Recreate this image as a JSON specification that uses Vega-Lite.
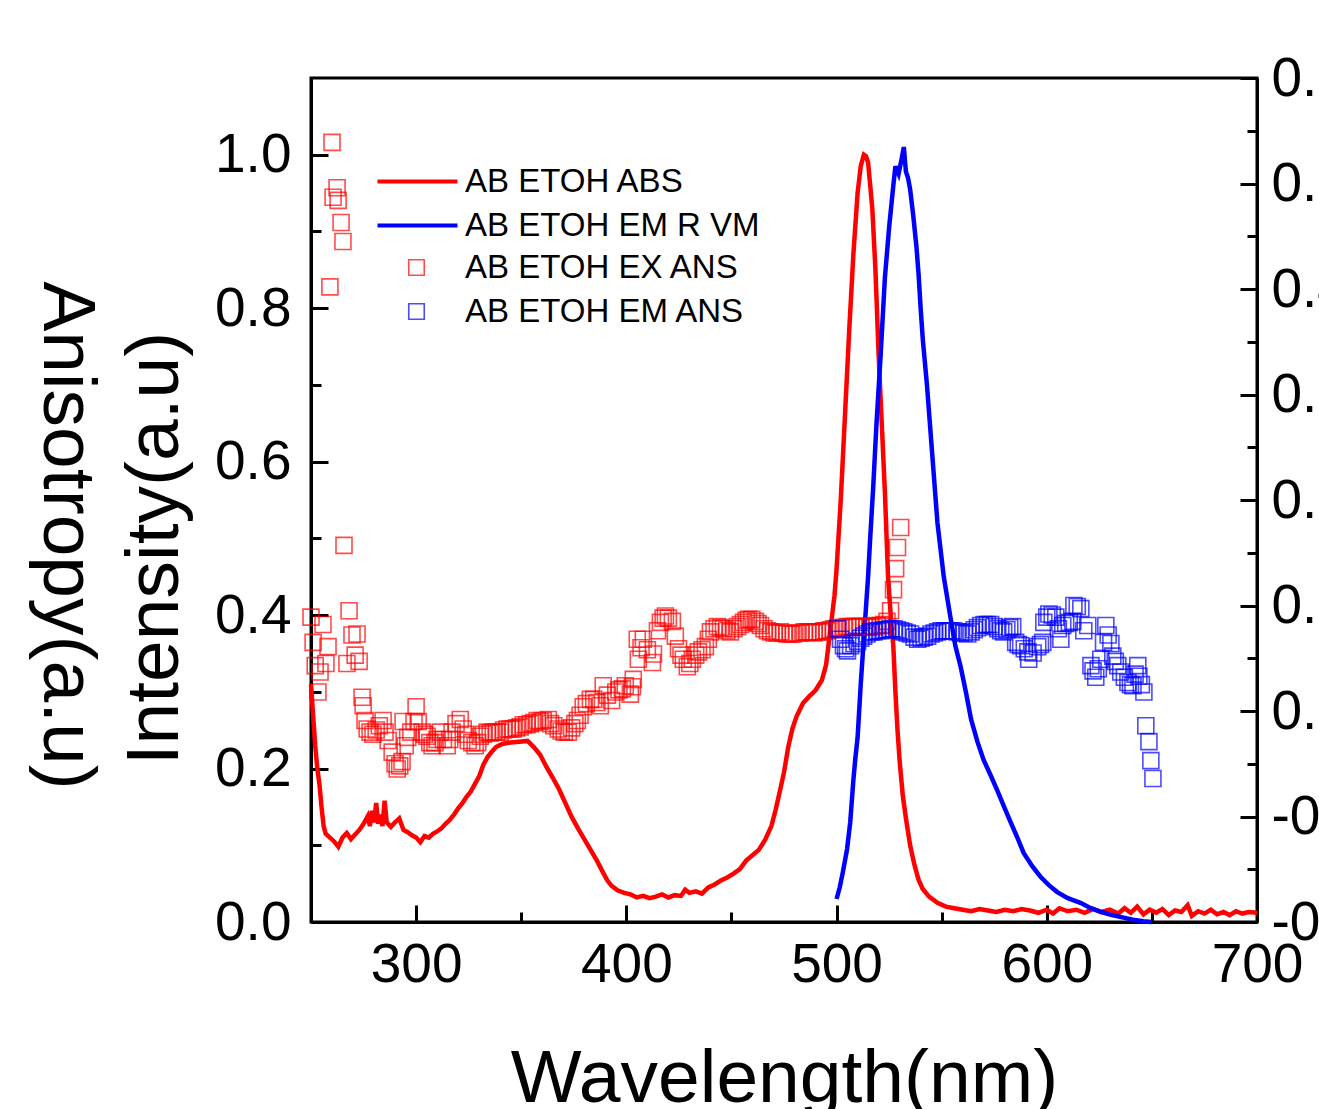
{
  "$schema": "https://vega.github.io/schema/vega-lite/v6.json",
  "width": 946,
  "height": 844,
  "autosize": {"type": "none"},
  "padding": {"left": 311, "top": 78, "right": 62, "bottom": 187},
  "background": "white",
  "config": {
    "view": {"stroke": "black", "strokeWidth": 3},
    "font": "Liberation Sans",
    "axis": {
      "labelFont": "Liberation Sans",
      "titleFont": "Liberation Sans",
      "labelColor": "black",
      "titleColor": "black",
      "domainColor": "black",
      "domainWidth": 3,
      "tickColor": "black",
      "tickWidth": 3,
      "grid": false,
      "labelFontSize": 55,
      "titleFontSize": 75,
      "titleFontWeight": "normal",
      "labelFlush": false,
      "labelOverlap": false
    },
    "legend": {"labelFont": "Liberation Sans", "labelFontSize": 33, "labelColor": "black", "labelLimit": 0}
  },
  "datasets": {
    "lines": [
      {"nm": 250, "v": 0.31, "s": "AB ETOH ABS"},
      {"nm": 251, "v": 0.27, "s": "AB ETOH ABS"},
      {"nm": 252, "v": 0.23, "s": "AB ETOH ABS"},
      {"nm": 253, "v": 0.2, "s": "AB ETOH ABS"},
      {"nm": 254, "v": 0.18, "s": "AB ETOH ABS"},
      {"nm": 255, "v": 0.15, "s": "AB ETOH ABS"},
      {"nm": 256, "v": 0.125, "s": "AB ETOH ABS"},
      {"nm": 257, "v": 0.115, "s": "AB ETOH ABS"},
      {"nm": 259, "v": 0.11, "s": "AB ETOH ABS"},
      {"nm": 261, "v": 0.105, "s": "AB ETOH ABS"},
      {"nm": 263, "v": 0.098, "s": "AB ETOH ABS"},
      {"nm": 265, "v": 0.11, "s": "AB ETOH ABS"},
      {"nm": 267, "v": 0.116, "s": "AB ETOH ABS"},
      {"nm": 269, "v": 0.108, "s": "AB ETOH ABS"},
      {"nm": 271, "v": 0.114, "s": "AB ETOH ABS"},
      {"nm": 273, "v": 0.12, "s": "AB ETOH ABS"},
      {"nm": 275, "v": 0.128, "s": "AB ETOH ABS"},
      {"nm": 277, "v": 0.138, "s": "AB ETOH ABS"},
      {"nm": 278, "v": 0.125, "s": "AB ETOH ABS"},
      {"nm": 279, "v": 0.145, "s": "AB ETOH ABS"},
      {"nm": 280, "v": 0.13, "s": "AB ETOH ABS"},
      {"nm": 281, "v": 0.155, "s": "AB ETOH ABS"},
      {"nm": 282, "v": 0.128, "s": "AB ETOH ABS"},
      {"nm": 283, "v": 0.14, "s": "AB ETOH ABS"},
      {"nm": 284, "v": 0.125, "s": "AB ETOH ABS"},
      {"nm": 285, "v": 0.158, "s": "AB ETOH ABS"},
      {"nm": 286, "v": 0.13, "s": "AB ETOH ABS"},
      {"nm": 288, "v": 0.124, "s": "AB ETOH ABS"},
      {"nm": 290, "v": 0.13, "s": "AB ETOH ABS"},
      {"nm": 292, "v": 0.135, "s": "AB ETOH ABS"},
      {"nm": 294, "v": 0.12, "s": "AB ETOH ABS"},
      {"nm": 296, "v": 0.117, "s": "AB ETOH ABS"},
      {"nm": 298, "v": 0.113, "s": "AB ETOH ABS"},
      {"nm": 300, "v": 0.11, "s": "AB ETOH ABS"},
      {"nm": 302, "v": 0.104, "s": "AB ETOH ABS"},
      {"nm": 304, "v": 0.112, "s": "AB ETOH ABS"},
      {"nm": 306, "v": 0.11, "s": "AB ETOH ABS"},
      {"nm": 308, "v": 0.115, "s": "AB ETOH ABS"},
      {"nm": 310, "v": 0.118, "s": "AB ETOH ABS"},
      {"nm": 312, "v": 0.122, "s": "AB ETOH ABS"},
      {"nm": 314, "v": 0.128, "s": "AB ETOH ABS"},
      {"nm": 316, "v": 0.133, "s": "AB ETOH ABS"},
      {"nm": 318, "v": 0.14, "s": "AB ETOH ABS"},
      {"nm": 320, "v": 0.148, "s": "AB ETOH ABS"},
      {"nm": 322, "v": 0.155, "s": "AB ETOH ABS"},
      {"nm": 324, "v": 0.163, "s": "AB ETOH ABS"},
      {"nm": 326, "v": 0.17, "s": "AB ETOH ABS"},
      {"nm": 328, "v": 0.18, "s": "AB ETOH ABS"},
      {"nm": 330, "v": 0.19, "s": "AB ETOH ABS"},
      {"nm": 332, "v": 0.205, "s": "AB ETOH ABS"},
      {"nm": 334, "v": 0.215, "s": "AB ETOH ABS"},
      {"nm": 336, "v": 0.222, "s": "AB ETOH ABS"},
      {"nm": 338, "v": 0.228, "s": "AB ETOH ABS"},
      {"nm": 341, "v": 0.232, "s": "AB ETOH ABS"},
      {"nm": 345, "v": 0.234, "s": "AB ETOH ABS"},
      {"nm": 349, "v": 0.235, "s": "AB ETOH ABS"},
      {"nm": 353, "v": 0.236, "s": "AB ETOH ABS"},
      {"nm": 356, "v": 0.228, "s": "AB ETOH ABS"},
      {"nm": 359, "v": 0.218, "s": "AB ETOH ABS"},
      {"nm": 362, "v": 0.202, "s": "AB ETOH ABS"},
      {"nm": 365, "v": 0.188, "s": "AB ETOH ABS"},
      {"nm": 368, "v": 0.173, "s": "AB ETOH ABS"},
      {"nm": 371, "v": 0.155, "s": "AB ETOH ABS"},
      {"nm": 374, "v": 0.137, "s": "AB ETOH ABS"},
      {"nm": 377, "v": 0.122, "s": "AB ETOH ABS"},
      {"nm": 380, "v": 0.108, "s": "AB ETOH ABS"},
      {"nm": 383, "v": 0.094, "s": "AB ETOH ABS"},
      {"nm": 386, "v": 0.08, "s": "AB ETOH ABS"},
      {"nm": 389, "v": 0.064, "s": "AB ETOH ABS"},
      {"nm": 391, "v": 0.054, "s": "AB ETOH ABS"},
      {"nm": 393, "v": 0.047, "s": "AB ETOH ABS"},
      {"nm": 396, "v": 0.041, "s": "AB ETOH ABS"},
      {"nm": 399, "v": 0.038, "s": "AB ETOH ABS"},
      {"nm": 402, "v": 0.036, "s": "AB ETOH ABS"},
      {"nm": 405, "v": 0.032, "s": "AB ETOH ABS"},
      {"nm": 408, "v": 0.034, "s": "AB ETOH ABS"},
      {"nm": 411, "v": 0.031, "s": "AB ETOH ABS"},
      {"nm": 414, "v": 0.033, "s": "AB ETOH ABS"},
      {"nm": 417, "v": 0.036, "s": "AB ETOH ABS"},
      {"nm": 420, "v": 0.032, "s": "AB ETOH ABS"},
      {"nm": 423, "v": 0.035, "s": "AB ETOH ABS"},
      {"nm": 426, "v": 0.034, "s": "AB ETOH ABS"},
      {"nm": 428, "v": 0.042, "s": "AB ETOH ABS"},
      {"nm": 430, "v": 0.038, "s": "AB ETOH ABS"},
      {"nm": 433, "v": 0.04, "s": "AB ETOH ABS"},
      {"nm": 436, "v": 0.037, "s": "AB ETOH ABS"},
      {"nm": 439, "v": 0.045, "s": "AB ETOH ABS"},
      {"nm": 442, "v": 0.049, "s": "AB ETOH ABS"},
      {"nm": 445, "v": 0.054, "s": "AB ETOH ABS"},
      {"nm": 448, "v": 0.058, "s": "AB ETOH ABS"},
      {"nm": 451, "v": 0.063, "s": "AB ETOH ABS"},
      {"nm": 454, "v": 0.069, "s": "AB ETOH ABS"},
      {"nm": 457, "v": 0.08, "s": "AB ETOH ABS"},
      {"nm": 460, "v": 0.087, "s": "AB ETOH ABS"},
      {"nm": 463, "v": 0.094, "s": "AB ETOH ABS"},
      {"nm": 466, "v": 0.107, "s": "AB ETOH ABS"},
      {"nm": 469, "v": 0.125, "s": "AB ETOH ABS"},
      {"nm": 471, "v": 0.146, "s": "AB ETOH ABS"},
      {"nm": 473, "v": 0.17, "s": "AB ETOH ABS"},
      {"nm": 475, "v": 0.195, "s": "AB ETOH ABS"},
      {"nm": 477, "v": 0.228, "s": "AB ETOH ABS"},
      {"nm": 479, "v": 0.252, "s": "AB ETOH ABS"},
      {"nm": 481, "v": 0.268, "s": "AB ETOH ABS"},
      {"nm": 484, "v": 0.285, "s": "AB ETOH ABS"},
      {"nm": 487, "v": 0.294, "s": "AB ETOH ABS"},
      {"nm": 490, "v": 0.302, "s": "AB ETOH ABS"},
      {"nm": 493, "v": 0.315, "s": "AB ETOH ABS"},
      {"nm": 495, "v": 0.335, "s": "AB ETOH ABS"},
      {"nm": 497, "v": 0.38, "s": "AB ETOH ABS"},
      {"nm": 499, "v": 0.425, "s": "AB ETOH ABS"},
      {"nm": 500, "v": 0.46, "s": "AB ETOH ABS"},
      {"nm": 502, "v": 0.55, "s": "AB ETOH ABS"},
      {"nm": 504, "v": 0.66, "s": "AB ETOH ABS"},
      {"nm": 506, "v": 0.77, "s": "AB ETOH ABS"},
      {"nm": 508, "v": 0.87, "s": "AB ETOH ABS"},
      {"nm": 510, "v": 0.95, "s": "AB ETOH ABS"},
      {"nm": 511.5, "v": 0.985, "s": "AB ETOH ABS"},
      {"nm": 513, "v": 1.0, "s": "AB ETOH ABS"},
      {"nm": 514, "v": 0.998, "s": "AB ETOH ABS"},
      {"nm": 515, "v": 0.99, "s": "AB ETOH ABS"},
      {"nm": 516, "v": 0.96, "s": "AB ETOH ABS"},
      {"nm": 517, "v": 0.93, "s": "AB ETOH ABS"},
      {"nm": 518.5, "v": 0.85, "s": "AB ETOH ABS"},
      {"nm": 520, "v": 0.74, "s": "AB ETOH ABS"},
      {"nm": 521.5, "v": 0.65, "s": "AB ETOH ABS"},
      {"nm": 523, "v": 0.56, "s": "AB ETOH ABS"},
      {"nm": 524.5, "v": 0.45, "s": "AB ETOH ABS"},
      {"nm": 526, "v": 0.39, "s": "AB ETOH ABS"},
      {"nm": 527, "v": 0.36, "s": "AB ETOH ABS"},
      {"nm": 528, "v": 0.3, "s": "AB ETOH ABS"},
      {"nm": 529, "v": 0.25, "s": "AB ETOH ABS"},
      {"nm": 530, "v": 0.21, "s": "AB ETOH ABS"},
      {"nm": 531.5, "v": 0.165, "s": "AB ETOH ABS"},
      {"nm": 533, "v": 0.135, "s": "AB ETOH ABS"},
      {"nm": 535, "v": 0.1, "s": "AB ETOH ABS"},
      {"nm": 537, "v": 0.075, "s": "AB ETOH ABS"},
      {"nm": 539, "v": 0.055, "s": "AB ETOH ABS"},
      {"nm": 541, "v": 0.043, "s": "AB ETOH ABS"},
      {"nm": 544, "v": 0.033, "s": "AB ETOH ABS"},
      {"nm": 548, "v": 0.025, "s": "AB ETOH ABS"},
      {"nm": 552, "v": 0.02, "s": "AB ETOH ABS"},
      {"nm": 556, "v": 0.018, "s": "AB ETOH ABS"},
      {"nm": 560, "v": 0.016, "s": "AB ETOH ABS"},
      {"nm": 564, "v": 0.014, "s": "AB ETOH ABS"},
      {"nm": 568, "v": 0.017, "s": "AB ETOH ABS"},
      {"nm": 572, "v": 0.015, "s": "AB ETOH ABS"},
      {"nm": 576, "v": 0.013, "s": "AB ETOH ABS"},
      {"nm": 580, "v": 0.016, "s": "AB ETOH ABS"},
      {"nm": 584, "v": 0.014, "s": "AB ETOH ABS"},
      {"nm": 588, "v": 0.017, "s": "AB ETOH ABS"},
      {"nm": 592, "v": 0.015, "s": "AB ETOH ABS"},
      {"nm": 596, "v": 0.012, "s": "AB ETOH ABS"},
      {"nm": 600, "v": 0.016, "s": "AB ETOH ABS"},
      {"nm": 603, "v": 0.011, "s": "AB ETOH ABS"},
      {"nm": 606, "v": 0.018, "s": "AB ETOH ABS"},
      {"nm": 610, "v": 0.014, "s": "AB ETOH ABS"},
      {"nm": 614, "v": 0.016, "s": "AB ETOH ABS"},
      {"nm": 618, "v": 0.012, "s": "AB ETOH ABS"},
      {"nm": 622, "v": 0.017, "s": "AB ETOH ABS"},
      {"nm": 626, "v": 0.013, "s": "AB ETOH ABS"},
      {"nm": 630, "v": 0.016, "s": "AB ETOH ABS"},
      {"nm": 634, "v": 0.011, "s": "AB ETOH ABS"},
      {"nm": 637, "v": 0.018, "s": "AB ETOH ABS"},
      {"nm": 640, "v": 0.012, "s": "AB ETOH ABS"},
      {"nm": 643, "v": 0.02, "s": "AB ETOH ABS"},
      {"nm": 646, "v": 0.01, "s": "AB ETOH ABS"},
      {"nm": 649, "v": 0.016, "s": "AB ETOH ABS"},
      {"nm": 652, "v": 0.012, "s": "AB ETOH ABS"},
      {"nm": 655, "v": 0.017, "s": "AB ETOH ABS"},
      {"nm": 658, "v": 0.009, "s": "AB ETOH ABS"},
      {"nm": 661, "v": 0.015, "s": "AB ETOH ABS"},
      {"nm": 664, "v": 0.013, "s": "AB ETOH ABS"},
      {"nm": 667, "v": 0.022, "s": "AB ETOH ABS"},
      {"nm": 669, "v": 0.008, "s": "AB ETOH ABS"},
      {"nm": 672, "v": 0.014, "s": "AB ETOH ABS"},
      {"nm": 675, "v": 0.011, "s": "AB ETOH ABS"},
      {"nm": 678, "v": 0.016, "s": "AB ETOH ABS"},
      {"nm": 681, "v": 0.01, "s": "AB ETOH ABS"},
      {"nm": 684, "v": 0.013, "s": "AB ETOH ABS"},
      {"nm": 687, "v": 0.009, "s": "AB ETOH ABS"},
      {"nm": 690, "v": 0.014, "s": "AB ETOH ABS"},
      {"nm": 693, "v": 0.011, "s": "AB ETOH ABS"},
      {"nm": 696, "v": 0.013, "s": "AB ETOH ABS"},
      {"nm": 700, "v": 0.012, "s": "AB ETOH ABS"},
      {"nm": 500, "v": 0.03, "s": "AB ETOH EM R VM"},
      {"nm": 501.5, "v": 0.045, "s": "AB ETOH EM R VM"},
      {"nm": 503, "v": 0.065, "s": "AB ETOH EM R VM"},
      {"nm": 505, "v": 0.095, "s": "AB ETOH EM R VM"},
      {"nm": 506.5, "v": 0.13, "s": "AB ETOH EM R VM"},
      {"nm": 508, "v": 0.185, "s": "AB ETOH EM R VM"},
      {"nm": 509, "v": 0.215, "s": "AB ETOH EM R VM"},
      {"nm": 510, "v": 0.24, "s": "AB ETOH EM R VM"},
      {"nm": 511.5, "v": 0.31, "s": "AB ETOH EM R VM"},
      {"nm": 513, "v": 0.37, "s": "AB ETOH EM R VM"},
      {"nm": 514, "v": 0.41, "s": "AB ETOH EM R VM"},
      {"nm": 515, "v": 0.45, "s": "AB ETOH EM R VM"},
      {"nm": 516, "v": 0.5, "s": "AB ETOH EM R VM"},
      {"nm": 517.5, "v": 0.57, "s": "AB ETOH EM R VM"},
      {"nm": 519, "v": 0.65, "s": "AB ETOH EM R VM"},
      {"nm": 521, "v": 0.74, "s": "AB ETOH EM R VM"},
      {"nm": 523, "v": 0.84, "s": "AB ETOH EM R VM"},
      {"nm": 525, "v": 0.905, "s": "AB ETOH EM R VM"},
      {"nm": 527, "v": 0.96, "s": "AB ETOH EM R VM"},
      {"nm": 528, "v": 0.985, "s": "AB ETOH EM R VM"},
      {"nm": 529.5, "v": 0.975, "s": "AB ETOH EM R VM"},
      {"nm": 531, "v": 0.995, "s": "AB ETOH EM R VM"},
      {"nm": 532, "v": 1.01, "s": "AB ETOH EM R VM"},
      {"nm": 533, "v": 0.978, "s": "AB ETOH EM R VM"},
      {"nm": 534, "v": 0.97, "s": "AB ETOH EM R VM"},
      {"nm": 535, "v": 0.955, "s": "AB ETOH EM R VM"},
      {"nm": 536.5, "v": 0.92, "s": "AB ETOH EM R VM"},
      {"nm": 538, "v": 0.88, "s": "AB ETOH EM R VM"},
      {"nm": 539, "v": 0.845, "s": "AB ETOH EM R VM"},
      {"nm": 540, "v": 0.8, "s": "AB ETOH EM R VM"},
      {"nm": 541, "v": 0.76, "s": "AB ETOH EM R VM"},
      {"nm": 543, "v": 0.7, "s": "AB ETOH EM R VM"},
      {"nm": 545.5, "v": 0.61, "s": "AB ETOH EM R VM"},
      {"nm": 548, "v": 0.52, "s": "AB ETOH EM R VM"},
      {"nm": 551, "v": 0.45, "s": "AB ETOH EM R VM"},
      {"nm": 554, "v": 0.4, "s": "AB ETOH EM R VM"},
      {"nm": 556.5, "v": 0.36, "s": "AB ETOH EM R VM"},
      {"nm": 559, "v": 0.333, "s": "AB ETOH EM R VM"},
      {"nm": 561.5, "v": 0.3, "s": "AB ETOH EM R VM"},
      {"nm": 564, "v": 0.264, "s": "AB ETOH EM R VM"},
      {"nm": 567, "v": 0.235, "s": "AB ETOH EM R VM"},
      {"nm": 570, "v": 0.211, "s": "AB ETOH EM R VM"},
      {"nm": 573.5, "v": 0.19, "s": "AB ETOH EM R VM"},
      {"nm": 577, "v": 0.168, "s": "AB ETOH EM R VM"},
      {"nm": 580, "v": 0.148, "s": "AB ETOH EM R VM"},
      {"nm": 583, "v": 0.129, "s": "AB ETOH EM R VM"},
      {"nm": 586, "v": 0.11, "s": "AB ETOH EM R VM"},
      {"nm": 589, "v": 0.09, "s": "AB ETOH EM R VM"},
      {"nm": 593, "v": 0.073, "s": "AB ETOH EM R VM"},
      {"nm": 597, "v": 0.059, "s": "AB ETOH EM R VM"},
      {"nm": 601, "v": 0.048, "s": "AB ETOH EM R VM"},
      {"nm": 605, "v": 0.039, "s": "AB ETOH EM R VM"},
      {"nm": 610, "v": 0.031, "s": "AB ETOH EM R VM"},
      {"nm": 616, "v": 0.025, "s": "AB ETOH EM R VM"},
      {"nm": 621, "v": 0.018, "s": "AB ETOH EM R VM"},
      {"nm": 626, "v": 0.013, "s": "AB ETOH EM R VM"},
      {"nm": 631, "v": 0.009, "s": "AB ETOH EM R VM"},
      {"nm": 636, "v": 0.006, "s": "AB ETOH EM R VM"},
      {"nm": 641, "v": 0.003, "s": "AB ETOH EM R VM"},
      {"nm": 646, "v": 0.001, "s": "AB ETOH EM R VM"},
      {"nm": 650, "v": 0.0, "s": "AB ETOH EM R VM"}
    ],
    "squares": [
      {"nm": 250, "a": 0.089, "s": "AB ETOH EX ANS"},
      {"nm": 251, "a": 0.065, "s": "AB ETOH EX ANS"},
      {"nm": 252, "a": 0.043, "s": "AB ETOH EX ANS"},
      {"nm": 253.3, "a": 0.018, "s": "AB ETOH EX ANS"},
      {"nm": 254.3, "a": 0.037, "s": "AB ETOH EX ANS"},
      {"nm": 255.7, "a": 0.082, "s": "AB ETOH EX ANS"},
      {"nm": 257.1, "a": 0.045, "s": "AB ETOH EX ANS"},
      {"nm": 258.1, "a": 0.061, "s": "AB ETOH EX ANS"},
      {"nm": 259, "a": 0.402, "s": "AB ETOH EX ANS"},
      {"nm": 260, "a": 0.539, "s": "AB ETOH EX ANS"},
      {"nm": 260.5, "a": 0.487, "s": "AB ETOH EX ANS"},
      {"nm": 262.4, "a": 0.496, "s": "AB ETOH EX ANS"},
      {"nm": 262.9, "a": 0.484, "s": "AB ETOH EX ANS"},
      {"nm": 264.3, "a": 0.463, "s": "AB ETOH EX ANS"},
      {"nm": 265.2, "a": 0.445, "s": "AB ETOH EX ANS"},
      {"nm": 265.7, "a": 0.157, "s": "AB ETOH EX ANS"},
      {"nm": 267.1, "a": 0.045, "s": "AB ETOH EX ANS"},
      {"nm": 268.1, "a": 0.095, "s": "AB ETOH EX ANS"},
      {"nm": 269.5, "a": 0.072, "s": "AB ETOH EX ANS"},
      {"nm": 271, "a": 0.053, "s": "AB ETOH EX ANS"},
      {"nm": 271.9, "a": 0.073, "s": "AB ETOH EX ANS"},
      {"nm": 272.9, "a": 0.047, "s": "AB ETOH EX ANS"},
      {"nm": 274.3, "a": 0.013, "s": "AB ETOH EX ANS"},
      {"nm": 274.8, "a": 0.005, "s": "AB ETOH EX ANS"},
      {"nm": 275.7, "a": -0.009, "s": "AB ETOH EX ANS"},
      {"nm": 276.7, "a": -0.017, "s": "AB ETOH EX ANS"},
      {"nm": 278.1, "a": -0.02, "s": "AB ETOH EX ANS"},
      {"nm": 279.5, "a": -0.022, "s": "AB ETOH EX ANS"},
      {"nm": 281, "a": -0.018, "s": "AB ETOH EX ANS"},
      {"nm": 282.5, "a": -0.014, "s": "AB ETOH EX ANS"},
      {"nm": 284.3, "a": -0.009, "s": "AB ETOH EX ANS"},
      {"nm": 285.2, "a": -0.02, "s": "AB ETOH EX ANS"},
      {"nm": 286.7, "a": -0.028, "s": "AB ETOH EX ANS"},
      {"nm": 288.6, "a": -0.039, "s": "AB ETOH EX ANS"},
      {"nm": 290, "a": -0.05, "s": "AB ETOH EX ANS"},
      {"nm": 291, "a": -0.055, "s": "AB ETOH EX ANS"},
      {"nm": 292.2, "a": -0.052, "s": "AB ETOH EX ANS"},
      {"nm": 293.3, "a": -0.048, "s": "AB ETOH EX ANS"},
      {"nm": 293.8, "a": -0.01, "s": "AB ETOH EX ANS"},
      {"nm": 294.8, "a": -0.033, "s": "AB ETOH EX ANS"},
      {"nm": 296, "a": -0.025, "s": "AB ETOH EX ANS"},
      {"nm": 297.5, "a": -0.02, "s": "AB ETOH EX ANS"},
      {"nm": 299, "a": -0.01, "s": "AB ETOH EX ANS"},
      {"nm": 300, "a": 0.004, "s": "AB ETOH EX ANS"},
      {"nm": 301, "a": -0.01, "s": "AB ETOH EX ANS"},
      {"nm": 302.9, "a": -0.02, "s": "AB ETOH EX ANS"},
      {"nm": 304, "a": -0.022, "s": "AB ETOH EX ANS"},
      {"nm": 305.2, "a": -0.024, "s": "AB ETOH EX ANS"},
      {"nm": 306.5, "a": -0.03, "s": "AB ETOH EX ANS"},
      {"nm": 307.6, "a": -0.033, "s": "AB ETOH EX ANS"},
      {"nm": 309, "a": -0.03, "s": "AB ETOH EX ANS"},
      {"nm": 310, "a": -0.027, "s": "AB ETOH EX ANS"},
      {"nm": 311.5, "a": -0.02, "s": "AB ETOH EX ANS"},
      {"nm": 313, "a": -0.027, "s": "AB ETOH EX ANS"},
      {"nm": 314.8, "a": -0.033, "s": "AB ETOH EX ANS"},
      {"nm": 316, "a": -0.027, "s": "AB ETOH EX ANS"},
      {"nm": 317.1, "a": -0.02, "s": "AB ETOH EX ANS"},
      {"nm": 319, "a": -0.012, "s": "AB ETOH EX ANS"},
      {"nm": 321, "a": -0.008, "s": "AB ETOH EX ANS"},
      {"nm": 322.4, "a": -0.017, "s": "AB ETOH EX ANS"},
      {"nm": 323.6, "a": -0.022, "s": "AB ETOH EX ANS"},
      {"nm": 324.8, "a": -0.028, "s": "AB ETOH EX ANS"},
      {"nm": 326.5, "a": -0.03, "s": "AB ETOH EX ANS"},
      {"nm": 328.1, "a": -0.033, "s": "AB ETOH EX ANS"},
      {"nm": 329.3, "a": -0.03, "s": "AB ETOH EX ANS"},
      {"nm": 330.5, "a": -0.024, "s": "AB ETOH EX ANS"},
      {"nm": 332, "a": -0.022, "s": "AB ETOH EX ANS"},
      {"nm": 333.8, "a": -0.02, "s": "AB ETOH EX ANS"},
      {"nm": 335.2, "a": -0.021, "s": "AB ETOH EX ANS"},
      {"nm": 336.7, "a": -0.02, "s": "AB ETOH EX ANS"},
      {"nm": 338.3, "a": -0.02, "s": "AB ETOH EX ANS"},
      {"nm": 340, "a": -0.02, "s": "AB ETOH EX ANS"},
      {"nm": 341.6, "a": -0.018, "s": "AB ETOH EX ANS"},
      {"nm": 343.3, "a": -0.017, "s": "AB ETOH EX ANS"},
      {"nm": 344.8, "a": -0.017, "s": "AB ETOH EX ANS"},
      {"nm": 346.2, "a": -0.017, "s": "AB ETOH EX ANS"},
      {"nm": 347.8, "a": -0.016, "s": "AB ETOH EX ANS"},
      {"nm": 349.5, "a": -0.015, "s": "AB ETOH EX ANS"},
      {"nm": 351, "a": -0.013, "s": "AB ETOH EX ANS"},
      {"nm": 352.7, "a": -0.013, "s": "AB ETOH EX ANS"},
      {"nm": 354.3, "a": -0.012, "s": "AB ETOH EX ANS"},
      {"nm": 356, "a": -0.011, "s": "AB ETOH EX ANS"},
      {"nm": 357.6, "a": -0.009, "s": "AB ETOH EX ANS"},
      {"nm": 359, "a": -0.01, "s": "AB ETOH EX ANS"},
      {"nm": 360.5, "a": -0.009, "s": "AB ETOH EX ANS"},
      {"nm": 362.9, "a": -0.008, "s": "AB ETOH EX ANS"},
      {"nm": 364, "a": -0.012, "s": "AB ETOH EX ANS"},
      {"nm": 365.5, "a": -0.014, "s": "AB ETOH EX ANS"},
      {"nm": 367.6, "a": -0.017, "s": "AB ETOH EX ANS"},
      {"nm": 369, "a": -0.019, "s": "AB ETOH EX ANS"},
      {"nm": 370.5, "a": -0.02, "s": "AB ETOH EX ANS"},
      {"nm": 372.4, "a": -0.02, "s": "AB ETOH EX ANS"},
      {"nm": 374, "a": -0.016, "s": "AB ETOH EX ANS"},
      {"nm": 375.5, "a": -0.012, "s": "AB ETOH EX ANS"},
      {"nm": 376.7, "a": -0.009, "s": "AB ETOH EX ANS"},
      {"nm": 378, "a": -0.004, "s": "AB ETOH EX ANS"},
      {"nm": 379.5, "a": 0.004, "s": "AB ETOH EX ANS"},
      {"nm": 381, "a": 0.007, "s": "AB ETOH EX ANS"},
      {"nm": 382.9, "a": 0.011, "s": "AB ETOH EX ANS"},
      {"nm": 384.5, "a": 0.011, "s": "AB ETOH EX ANS"},
      {"nm": 386, "a": 0.008, "s": "AB ETOH EX ANS"},
      {"nm": 387.6, "a": 0.005, "s": "AB ETOH EX ANS"},
      {"nm": 389, "a": 0.024, "s": "AB ETOH EX ANS"},
      {"nm": 391, "a": 0.015, "s": "AB ETOH EX ANS"},
      {"nm": 393, "a": 0.01, "s": "AB ETOH EX ANS"},
      {"nm": 395, "a": 0.018, "s": "AB ETOH EX ANS"},
      {"nm": 396.5, "a": 0.02, "s": "AB ETOH EX ANS"},
      {"nm": 398.1, "a": 0.021, "s": "AB ETOH EX ANS"},
      {"nm": 399.5, "a": 0.024, "s": "AB ETOH EX ANS"},
      {"nm": 401.9, "a": 0.016, "s": "AB ETOH EX ANS"},
      {"nm": 402.9, "a": 0.023, "s": "AB ETOH EX ANS"},
      {"nm": 403.3, "a": 0.03, "s": "AB ETOH EX ANS"},
      {"nm": 405.2, "a": 0.068, "s": "AB ETOH EX ANS"},
      {"nm": 405.7, "a": 0.049, "s": "AB ETOH EX ANS"},
      {"nm": 407, "a": 0.06, "s": "AB ETOH EX ANS"},
      {"nm": 408.1, "a": 0.068, "s": "AB ETOH EX ANS"},
      {"nm": 410, "a": 0.058, "s": "AB ETOH EX ANS"},
      {"nm": 412.4, "a": 0.046, "s": "AB ETOH EX ANS"},
      {"nm": 412.9, "a": 0.054, "s": "AB ETOH EX ANS"},
      {"nm": 414.8, "a": 0.076, "s": "AB ETOH EX ANS"},
      {"nm": 416.2, "a": 0.084, "s": "AB ETOH EX ANS"},
      {"nm": 417.5, "a": 0.088, "s": "AB ETOH EX ANS"},
      {"nm": 418.6, "a": 0.09, "s": "AB ETOH EX ANS"},
      {"nm": 420, "a": 0.088, "s": "AB ETOH EX ANS"},
      {"nm": 421.9, "a": 0.085, "s": "AB ETOH EX ANS"},
      {"nm": 423.3, "a": 0.071, "s": "AB ETOH EX ANS"},
      {"nm": 424.8, "a": 0.059, "s": "AB ETOH EX ANS"},
      {"nm": 426, "a": 0.053, "s": "AB ETOH EX ANS"},
      {"nm": 427.1, "a": 0.049, "s": "AB ETOH EX ANS"},
      {"nm": 429, "a": 0.042, "s": "AB ETOH EX ANS"},
      {"nm": 430.2, "a": 0.045, "s": "AB ETOH EX ANS"},
      {"nm": 431.4, "a": 0.049, "s": "AB ETOH EX ANS"},
      {"nm": 433, "a": 0.053, "s": "AB ETOH EX ANS"},
      {"nm": 434.3, "a": 0.056, "s": "AB ETOH EX ANS"},
      {"nm": 436, "a": 0.058, "s": "AB ETOH EX ANS"},
      {"nm": 437.6, "a": 0.061, "s": "AB ETOH EX ANS"},
      {"nm": 439, "a": 0.068, "s": "AB ETOH EX ANS"},
      {"nm": 440, "a": 0.075, "s": "AB ETOH EX ANS"},
      {"nm": 441.7, "a": 0.078, "s": "AB ETOH EX ANS"},
      {"nm": 443.3, "a": 0.08, "s": "AB ETOH EX ANS"},
      {"nm": 444.8, "a": 0.079, "s": "AB ETOH EX ANS"},
      {"nm": 446.2, "a": 0.078, "s": "AB ETOH EX ANS"},
      {"nm": 447.8, "a": 0.076, "s": "AB ETOH EX ANS"},
      {"nm": 449.5, "a": 0.075, "s": "AB ETOH EX ANS"},
      {"nm": 451.2, "a": 0.078, "s": "AB ETOH EX ANS"},
      {"nm": 452.9, "a": 0.08, "s": "AB ETOH EX ANS"},
      {"nm": 454.3, "a": 0.082, "s": "AB ETOH EX ANS"},
      {"nm": 455.7, "a": 0.084, "s": "AB ETOH EX ANS"},
      {"nm": 457, "a": 0.086, "s": "AB ETOH EX ANS"},
      {"nm": 458.1, "a": 0.087, "s": "AB ETOH EX ANS"},
      {"nm": 459.7, "a": 0.087, "s": "AB ETOH EX ANS"},
      {"nm": 461.4, "a": 0.085, "s": "AB ETOH EX ANS"},
      {"nm": 462.6, "a": 0.083, "s": "AB ETOH EX ANS"},
      {"nm": 463.8, "a": 0.081, "s": "AB ETOH EX ANS"},
      {"nm": 465.5, "a": 0.078, "s": "AB ETOH EX ANS"},
      {"nm": 467.1, "a": 0.076, "s": "AB ETOH EX ANS"},
      {"nm": 468.7, "a": 0.075, "s": "AB ETOH EX ANS"},
      {"nm": 470.3, "a": 0.074, "s": "AB ETOH EX ANS"},
      {"nm": 471.8, "a": 0.074, "s": "AB ETOH EX ANS"},
      {"nm": 473.3, "a": 0.075, "s": "AB ETOH EX ANS"},
      {"nm": 474.9, "a": 0.074, "s": "AB ETOH EX ANS"},
      {"nm": 476.4, "a": 0.073, "s": "AB ETOH EX ANS"},
      {"nm": 478, "a": 0.073, "s": "AB ETOH EX ANS"},
      {"nm": 479.5, "a": 0.073, "s": "AB ETOH EX ANS"},
      {"nm": 481.2, "a": 0.074, "s": "AB ETOH EX ANS"},
      {"nm": 482.9, "a": 0.074, "s": "AB ETOH EX ANS"},
      {"nm": 484.6, "a": 0.075, "s": "AB ETOH EX ANS"},
      {"nm": 486.2, "a": 0.075, "s": "AB ETOH EX ANS"},
      {"nm": 487.8, "a": 0.075, "s": "AB ETOH EX ANS"},
      {"nm": 489.3, "a": 0.074, "s": "AB ETOH EX ANS"},
      {"nm": 490.8, "a": 0.075, "s": "AB ETOH EX ANS"},
      {"nm": 492.4, "a": 0.075, "s": "AB ETOH EX ANS"},
      {"nm": 494, "a": 0.076, "s": "AB ETOH EX ANS"},
      {"nm": 495.5, "a": 0.076, "s": "AB ETOH EX ANS"},
      {"nm": 497, "a": 0.077, "s": "AB ETOH EX ANS"},
      {"nm": 498.6, "a": 0.078, "s": "AB ETOH EX ANS"},
      {"nm": 500.2, "a": 0.078, "s": "AB ETOH EX ANS"},
      {"nm": 501.8, "a": 0.079, "s": "AB ETOH EX ANS"},
      {"nm": 503.5, "a": 0.079, "s": "AB ETOH EX ANS"},
      {"nm": 505.2, "a": 0.08, "s": "AB ETOH EX ANS"},
      {"nm": 506.8, "a": 0.08, "s": "AB ETOH EX ANS"},
      {"nm": 508.3, "a": 0.08, "s": "AB ETOH EX ANS"},
      {"nm": 509.9, "a": 0.08, "s": "AB ETOH EX ANS"},
      {"nm": 511.4, "a": 0.08, "s": "AB ETOH EX ANS"},
      {"nm": 513, "a": 0.08, "s": "AB ETOH EX ANS"},
      {"nm": 514.5, "a": 0.08, "s": "AB ETOH EX ANS"},
      {"nm": 516, "a": 0.08, "s": "AB ETOH EX ANS"},
      {"nm": 517.6, "a": 0.08, "s": "AB ETOH EX ANS"},
      {"nm": 519.3, "a": 0.081, "s": "AB ETOH EX ANS"},
      {"nm": 521, "a": 0.081, "s": "AB ETOH EX ANS"},
      {"nm": 522.5, "a": 0.082, "s": "AB ETOH EX ANS"},
      {"nm": 524, "a": 0.085, "s": "AB ETOH EX ANS"},
      {"nm": 525.7, "a": 0.095, "s": "AB ETOH EX ANS"},
      {"nm": 527.1, "a": 0.115, "s": "AB ETOH EX ANS"},
      {"nm": 528.1, "a": 0.135, "s": "AB ETOH EX ANS"},
      {"nm": 529, "a": 0.155, "s": "AB ETOH EX ANS"},
      {"nm": 530.5, "a": 0.174, "s": "AB ETOH EX ANS"},
      {"nm": 500.5, "a": 0.078, "s": "AB ETOH EM ANS"},
      {"nm": 501.9, "a": 0.068, "s": "AB ETOH EM ANS"},
      {"nm": 503.3, "a": 0.062, "s": "AB ETOH EM ANS"},
      {"nm": 504.3, "a": 0.059, "s": "AB ETOH EM ANS"},
      {"nm": 505.2, "a": 0.057, "s": "AB ETOH EM ANS"},
      {"nm": 506.7, "a": 0.062, "s": "AB ETOH EM ANS"},
      {"nm": 508.3, "a": 0.064, "s": "AB ETOH EM ANS"},
      {"nm": 510, "a": 0.066, "s": "AB ETOH EM ANS"},
      {"nm": 511.5, "a": 0.069, "s": "AB ETOH EM ANS"},
      {"nm": 512.9, "a": 0.071, "s": "AB ETOH EM ANS"},
      {"nm": 514.5, "a": 0.073, "s": "AB ETOH EM ANS"},
      {"nm": 516.2, "a": 0.075, "s": "AB ETOH EM ANS"},
      {"nm": 517.8, "a": 0.075, "s": "AB ETOH EM ANS"},
      {"nm": 519.4, "a": 0.076, "s": "AB ETOH EM ANS"},
      {"nm": 521, "a": 0.076, "s": "AB ETOH EM ANS"},
      {"nm": 522.6, "a": 0.077, "s": "AB ETOH EM ANS"},
      {"nm": 524.2, "a": 0.077, "s": "AB ETOH EM ANS"},
      {"nm": 525.7, "a": 0.078, "s": "AB ETOH EM ANS"},
      {"nm": 527.3, "a": 0.078, "s": "AB ETOH EM ANS"},
      {"nm": 528.9, "a": 0.077, "s": "AB ETOH EM ANS"},
      {"nm": 530.5, "a": 0.076, "s": "AB ETOH EM ANS"},
      {"nm": 532, "a": 0.075, "s": "AB ETOH EM ANS"},
      {"nm": 533.6, "a": 0.074, "s": "AB ETOH EM ANS"},
      {"nm": 535.2, "a": 0.073, "s": "AB ETOH EM ANS"},
      {"nm": 536.9, "a": 0.07, "s": "AB ETOH EM ANS"},
      {"nm": 538.6, "a": 0.068, "s": "AB ETOH EM ANS"},
      {"nm": 540.2, "a": 0.069, "s": "AB ETOH EM ANS"},
      {"nm": 541.7, "a": 0.07, "s": "AB ETOH EM ANS"},
      {"nm": 543.3, "a": 0.071, "s": "AB ETOH EM ANS"},
      {"nm": 544.9, "a": 0.073, "s": "AB ETOH EM ANS"},
      {"nm": 546.5, "a": 0.074, "s": "AB ETOH EM ANS"},
      {"nm": 548.1, "a": 0.075, "s": "AB ETOH EM ANS"},
      {"nm": 549.7, "a": 0.076, "s": "AB ETOH EM ANS"},
      {"nm": 551.3, "a": 0.076, "s": "AB ETOH EM ANS"},
      {"nm": 552.9, "a": 0.076, "s": "AB ETOH EM ANS"},
      {"nm": 554.3, "a": 0.076, "s": "AB ETOH EM ANS"},
      {"nm": 555.7, "a": 0.076, "s": "AB ETOH EM ANS"},
      {"nm": 557.4, "a": 0.075, "s": "AB ETOH EM ANS"},
      {"nm": 559, "a": 0.074, "s": "AB ETOH EM ANS"},
      {"nm": 560.7, "a": 0.074, "s": "AB ETOH EM ANS"},
      {"nm": 562.4, "a": 0.073, "s": "AB ETOH EM ANS"},
      {"nm": 564, "a": 0.075, "s": "AB ETOH EM ANS"},
      {"nm": 565.5, "a": 0.077, "s": "AB ETOH EM ANS"},
      {"nm": 567, "a": 0.079, "s": "AB ETOH EM ANS"},
      {"nm": 568.6, "a": 0.081, "s": "AB ETOH EM ANS"},
      {"nm": 570.2, "a": 0.082, "s": "AB ETOH EM ANS"},
      {"nm": 571.7, "a": 0.082, "s": "AB ETOH EM ANS"},
      {"nm": 573.3, "a": 0.082, "s": "AB ETOH EM ANS"},
      {"nm": 575, "a": 0.08, "s": "AB ETOH EM ANS"},
      {"nm": 576.7, "a": 0.078, "s": "AB ETOH EM ANS"},
      {"nm": 578.1, "a": 0.076, "s": "AB ETOH EM ANS"},
      {"nm": 579.5, "a": 0.075, "s": "AB ETOH EM ANS"},
      {"nm": 581, "a": 0.077, "s": "AB ETOH EM ANS"},
      {"nm": 582.4, "a": 0.079, "s": "AB ETOH EM ANS"},
      {"nm": 583.8, "a": 0.08, "s": "AB ETOH EM ANS"},
      {"nm": 585.2, "a": 0.065, "s": "AB ETOH EM ANS"},
      {"nm": 586.4, "a": 0.063, "s": "AB ETOH EM ANS"},
      {"nm": 587.6, "a": 0.062, "s": "AB ETOH EM ANS"},
      {"nm": 589.3, "a": 0.059, "s": "AB ETOH EM ANS"},
      {"nm": 591, "a": 0.056, "s": "AB ETOH EM ANS"},
      {"nm": 591.4, "a": 0.049, "s": "AB ETOH EM ANS"},
      {"nm": 593.5, "a": 0.055, "s": "AB ETOH EM ANS"},
      {"nm": 595.7, "a": 0.061, "s": "AB ETOH EM ANS"},
      {"nm": 597, "a": 0.063, "s": "AB ETOH EM ANS"},
      {"nm": 598.1, "a": 0.065, "s": "AB ETOH EM ANS"},
      {"nm": 598.6, "a": 0.084, "s": "AB ETOH EM ANS"},
      {"nm": 600, "a": 0.089, "s": "AB ETOH EM ANS"},
      {"nm": 601, "a": 0.092, "s": "AB ETOH EM ANS"},
      {"nm": 602.6, "a": 0.091, "s": "AB ETOH EM ANS"},
      {"nm": 604.3, "a": 0.089, "s": "AB ETOH EM ANS"},
      {"nm": 605.5, "a": 0.078, "s": "AB ETOH EM ANS"},
      {"nm": 606.7, "a": 0.068, "s": "AB ETOH EM ANS"},
      {"nm": 607.6, "a": 0.081, "s": "AB ETOH EM ANS"},
      {"nm": 609, "a": 0.083, "s": "AB ETOH EM ANS"},
      {"nm": 610.7, "a": 0.084, "s": "AB ETOH EM ANS"},
      {"nm": 612.4, "a": 0.085, "s": "AB ETOH EM ANS"},
      {"nm": 612.9, "a": 0.1, "s": "AB ETOH EM ANS"},
      {"nm": 614.5, "a": 0.099, "s": "AB ETOH EM ANS"},
      {"nm": 616.2, "a": 0.097, "s": "AB ETOH EM ANS"},
      {"nm": 617.6, "a": 0.076, "s": "AB ETOH EM ANS"},
      {"nm": 619.5, "a": 0.081, "s": "AB ETOH EM ANS"},
      {"nm": 621, "a": 0.043, "s": "AB ETOH EM ANS"},
      {"nm": 622, "a": 0.038, "s": "AB ETOH EM ANS"},
      {"nm": 623.3, "a": 0.032, "s": "AB ETOH EM ANS"},
      {"nm": 624.5, "a": 0.04, "s": "AB ETOH EM ANS"},
      {"nm": 625.7, "a": 0.049, "s": "AB ETOH EM ANS"},
      {"nm": 627, "a": 0.065, "s": "AB ETOH EM ANS"},
      {"nm": 628.1, "a": 0.081, "s": "AB ETOH EM ANS"},
      {"nm": 629.2, "a": 0.072, "s": "AB ETOH EM ANS"},
      {"nm": 630.5, "a": 0.064, "s": "AB ETOH EM ANS"},
      {"nm": 631.4, "a": 0.052, "s": "AB ETOH EM ANS"},
      {"nm": 632.6, "a": 0.047, "s": "AB ETOH EM ANS"},
      {"nm": 633.8, "a": 0.043, "s": "AB ETOH EM ANS"},
      {"nm": 635.2, "a": 0.037, "s": "AB ETOH EM ANS"},
      {"nm": 636.9, "a": 0.032, "s": "AB ETOH EM ANS"},
      {"nm": 638.6, "a": 0.027, "s": "AB ETOH EM ANS"},
      {"nm": 639.8, "a": 0.025, "s": "AB ETOH EM ANS"},
      {"nm": 641, "a": 0.024, "s": "AB ETOH EM ANS"},
      {"nm": 642, "a": 0.035, "s": "AB ETOH EM ANS"},
      {"nm": 643.3, "a": 0.043, "s": "AB ETOH EM ANS"},
      {"nm": 643.8, "a": 0.033, "s": "AB ETOH EM ANS"},
      {"nm": 645, "a": 0.025, "s": "AB ETOH EM ANS"},
      {"nm": 646.2, "a": 0.018, "s": "AB ETOH EM ANS"},
      {"nm": 647.1, "a": -0.014, "s": "AB ETOH EM ANS"},
      {"nm": 648.6, "a": -0.029, "s": "AB ETOH EM ANS"},
      {"nm": 649.5, "a": -0.047, "s": "AB ETOH EM ANS"},
      {"nm": 650.5, "a": -0.064, "s": "AB ETOH EM ANS"}
    ]
  },
  "encoding": {
    "x": {
      "field": "nm",
      "type": "quantitative",
      "scale": {"domain": [250, 700], "nice": false, "zero": false},
      "axis": {
        "title": "Wavelength(nm)",
        "values": [250, 300, 350, 400, 450, 500, 550, 600, 650, 700],
        "format": "d",
        "labelExpr": "datum.value % 100 == 0 ? datum.label : ''",
        "tickSize": {"condition": {"test": "datum.value % 100 == 0", "value": -17}, "value": -10},
        "labelPadding": 33,
        "titleX": 473,
        "titleY": 179,
        "titleBaseline": "alphabetic",
        "titleAlign": "center",
        "titleAnchor": null
      }
    }
  },
  "layer": [
    {
      "data": {"name": "lines"},
      "mark": {"type": "line", "strokeWidth": 4.5, "interpolate": "linear"},
      "encoding": {
        "y": {
          "field": "v",
          "type": "quantitative",
          "scale": {"domain": [0, 1.1], "nice": false, "zero": false},
          "axis": {
            "orient": "left",
            "title": "Intensity(a.u)",
            "values": [0, 0.1, 0.2, 0.3, 0.4, 0.5, 0.6, 0.7, 0.8, 0.9, 1.0],
            "labelExpr": "round(datum.value*10) % 2 == 0 ? format(datum.value, '.1f') : ''",
            "tickSize": {"condition": {"test": "round(datum.value*10) % 2 == 0", "value": -17}, "value": -10},
            "labelPadding": 37,
            "titleAngle": 270,
            "titleX": -134,
            "titleY": 470,
            "titleBaseline": "alphabetic",
            "titleAlign": "center",
            "titleAnchor": null
          }
        },
        "color": {
          "field": "s",
          "type": "nominal",
          "scale": {"domain": ["AB ETOH ABS", "AB ETOH EM R VM"], "range": ["#ff0000", "#0000ff"]},
          "legend": {
            "orient": "none",
            "legendX": 90,
            "legendY": 87,
            "title": null,
            "symbolType": "M-5,0H5",
            "symbolSize": 256,
            "symbolStrokeWidth": 4,
            "labelOffset": 31,
            "rowPadding": 10,
            "labelFontSize": 33,
            "labelLimit": 0
          }
        }
      }
    },
    {
      "data": {"name": "squares"},
      "mark": {"type": "point", "shape": "square", "filled": false, "size": 256, "strokeWidth": 1.6, "opacity": 0.7},
      "encoding": {
        "y": {
          "field": "a",
          "type": "quantitative",
          "scale": {"domain": [-0.2, 0.6], "nice": false, "zero": false},
          "axis": {
            "orient": "right",
            "title": "Anisotropy(a.u)",
            "values": [-0.2, -0.15, -0.1, -0.05, 0, 0.05, 0.1, 0.15, 0.2, 0.25, 0.3, 0.35, 0.4, 0.45, 0.5, 0.55, 0.6],
            "labelExpr": "abs(round(datum.value*20)) % 2 == 0 ? replace(format(datum.value, '.1f'), '\u2212', '-') : ''",
            "tickSize": {"condition": {"test": "abs(round(datum.value*20)) % 2 == 0", "value": -17}, "value": -10},
            "labelPadding": 31,
            "titleAngle": 90,
            "titleX": -1214,
            "titleY": 457,
            "titleBaseline": "alphabetic",
            "titleAlign": "center",
            "titleAnchor": null
          }
        },
        "color": {
          "field": "s",
          "type": "nominal",
          "scale": {"domain": ["AB ETOH EX ANS", "AB ETOH EM ANS"], "range": ["#ff0000", "#0000ff"]},
          "legend": {
            "orient": "none",
            "legendX": 89,
            "legendY": 173,
            "title": null,
            "symbolType": "square",
            "symbolSize": 240,
            "symbolStrokeWidth": 1.6,
            "symbolOpacity": 0.7,
            "labelOffset": 32,
            "rowPadding": 10,
            "labelFontSize": 33,
            "labelLimit": 0
          }
        }
      }
    }
  ],
  "resolve": {
    "scale": {"y": "independent", "color": "independent"},
    "axis": {"y": "independent"},
    "legend": {"color": "independent"}
  }
}
